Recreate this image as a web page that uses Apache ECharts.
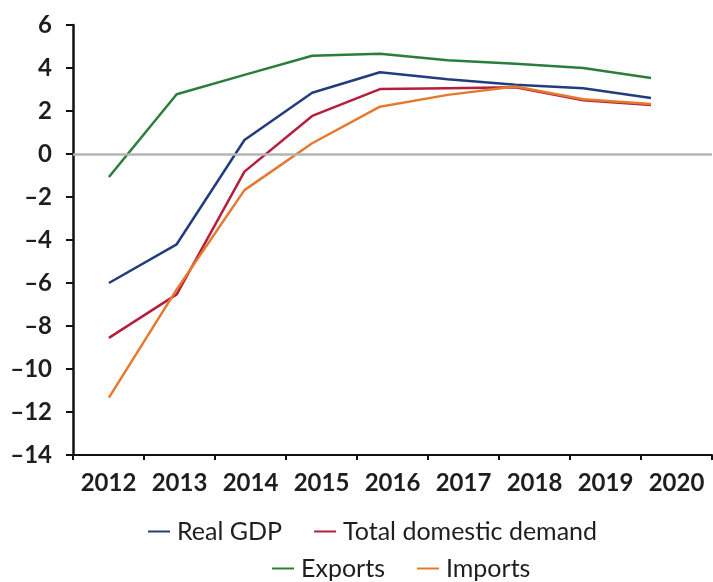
<!DOCTYPE html>
<html>
<head>
<meta charset="utf-8">
<script src="https://cdn.jsdelivr.net/npm/echarts@6/dist/echarts.min.js"></script>
<style>
  html, body { margin: 0; padding: 0; background: #ffffff; }
  #chart { width: 713px; height: 582px; }
</style>
</head>
<body>
<div id="chart"></div>
<script>
// Year labels on the category axis and the matching numeric positions of the points
const yearLabels = ['2012', '2013', '2014', '2015', '2016', '2017', '2018', '2019', '2020'];
const yearPositions = [2012, 2013, 2014, 2015, 2016, 2017, 2018, 2019, 2020];

// Annual growth, %
const realGdp = [-6.0, -4.2, 0.65, 2.85, 3.8, 3.48, 3.22, 3.06, 2.6];
const totalDomesticDemand = [-8.55, -6.53, -0.82, 1.77, 3.02, 3.06, 3.1, 2.5, 2.28];
const exportsGrowth = [-1.07, 2.78, 3.68, 4.57, 4.66, 4.36, 4.2, 4.0, 3.54];
const importsGrowth = [-11.33, -6.3, -1.68, 0.5, 2.2, 2.75, 3.14, 2.55, 2.33];

// Value axis range
const yMin = -14;
const yMax = 6;
const yStep = 2;

const FONT = 'Lato, "Open Sans", sans-serif';
const TEXT = '#1e1e1e';

function pairs(values) {
  return values.map((v, i) => [yearPositions[i], v]);
}

function lineSeries(name, values, color) {
  return {
    name: name,
    type: 'line',
    xAxisIndex: 1,
    data: pairs(values),
    symbol: 'none',
    smooth: false,
    z: 3,
    lineStyle: { color: color, width: 2.5 },
    itemStyle: { color: color }
  };
}

const legendBase = {
  icon: 'rect',
  itemWidth: 22,
  itemHeight: 2,
  itemGap: 32,
  padding: 0,
  textStyle: { fontFamily: FONT, fontSize: 25, color: TEXT, padding: [0, 0, 0, 2] }
};

const chart = echarts.init(document.getElementById('chart'), null, { renderer: 'canvas' });

chart.setOption({
  animation: false,
  backgroundColor: '#ffffff',
  grid: { left: 73, right: 1, top: 25, bottom: 127, containLabel: false },
  legend: [
    Object.assign({}, legendBase, { data: ['Real GDP', 'Total domestic demand'], left: 148, top: 519 }),
    Object.assign({}, legendBase, { data: ['Exports', 'Imports'], left: 272, top: 556 })
  ],
  xAxis: [
    {
      type: 'category',
      data: yearLabels,
      boundaryGap: true,
      axisLine: { show: true, onZero: false, lineStyle: { color: '#111111', width: 2 } },
      axisTick: { show: true, length: 5, lineStyle: { color: '#111111', width: 2 } },
      axisLabel: {
        interval: 0,
        hideOverlap: false,
        margin: 16,
        fontFamily: FONT,
        fontWeight: 'bold',
        fontSize: 24,
        color: TEXT
      },
      splitLine: { show: false }
    },
    {
      type: 'value',
      show: false,
      min: 2011.47,
      max: 2020.9,
      splitLine: { show: false }
    }
  ],
  yAxis: {
    type: 'value',
    min: yMin,
    max: yMax,
    interval: yStep,
    axisLine: { show: true, lineStyle: { color: '#111111', width: 2.5 } },
    axisTick: { show: true, length: 7, lineStyle: { color: '#111111', width: 2 } },
    axisLabel: {
      margin: 21,
      fontFamily: FONT,
      fontWeight: 'bold',
      fontSize: 24,
      color: TEXT,
      formatter: v => String(v).replace('-', '\u2013')
    },
    splitLine: { show: false }
  },
  series: [
    {
      name: 'zero',
      type: 'line',
      xAxisIndex: 1,
      data: [],
      z: 1,
      silent: true,
      markLine: {
        silent: true,
        symbol: ['none', 'none'],
        label: { show: false },
        lineStyle: { color: '#b4b4b4', width: 2.5, type: 'solid' },
        data: [{ yAxis: 0 }]
      }
    },
    lineSeries('Real GDP', realGdp, '#223d7b'),
    lineSeries('Total domestic demand', totalDomesticDemand, '#b41f3d'),
    lineSeries('Exports', exportsGrowth, '#2a7d3b'),
    lineSeries('Imports', importsGrowth, '#e57a2f')
  ]
});
</script>
</body>
</html>
